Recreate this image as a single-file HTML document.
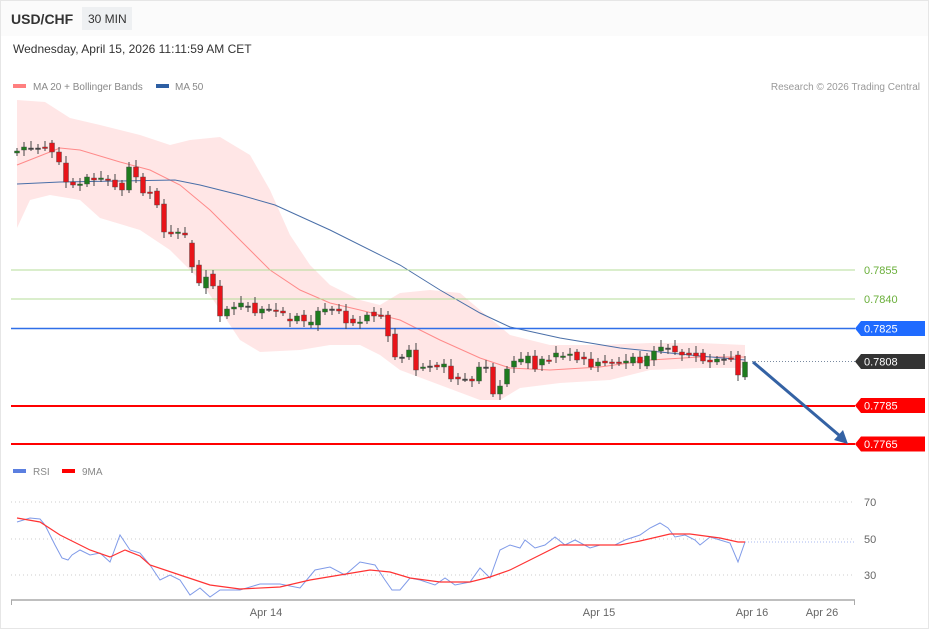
<!DOCTYPE html>
<html><head><meta charset="utf-8">
<style>
html,body{margin:0;padding:0;background:#fff;}
body{width:929px;height:629px;overflow:hidden;font-family:"Liberation Sans",sans-serif;}
#wrap{position:relative;width:927px;height:627px;border:1px solid #e6e6e6;}
svg{position:absolute;left:-1px;top:-1px;}
</style></head>
<body><div id="wrap">
<svg id="s" width="929" height="629" viewBox="0 0 929 629" xmlns="http://www.w3.org/2000/svg" font-family="Liberation Sans, sans-serif">
<rect x="1" y="1" width="927" height="35" fill="#fbfbfb"/>
<text x="11" y="24" font-size="14" font-weight="bold" fill="#333">USD/CHF</text>
<rect x="82" y="7" width="50" height="23" fill="#eef0f2"/>
<text x="88" y="23" font-size="12" fill="#333">30 MIN</text>
<text x="13" y="53" font-size="12" fill="#333">Wednesday, April 15, 2026 11:11:59 AM CET</text>
<rect x="13" y="84" width="13" height="4" fill="#ff7f7f"/>
<text x="33" y="90" font-size="10" fill="#888">MA 20 + Bollinger Bands</text>
<rect x="156" y="84" width="13" height="4" fill="#2e5fa3"/>
<text x="175" y="90" font-size="10" fill="#888">MA 50</text>
<text x="920" y="90" font-size="10" fill="#999" text-anchor="end">Research © 2026 Trading Central</text>

<polygon fill="#ffe3e3" opacity="0.9" points="17,100 45,102 70,118 100,125 140,135 170,145 190,140 220,137 250,155 270,190 290,235 310,265 330,285 360,300 380,305 400,293 430,290 460,293 480,310 510,335 550,345 600,345 650,343 700,343 745,345 745,368 700,368 650,370 610,380 560,383 520,388 500,400 480,400 440,385 400,370 380,355 360,345 330,345 300,350 260,352 240,340 220,310 200,280 170,250 140,230 100,218 80,200 50,195 30,200 17,228"/>
<polyline fill="none" stroke="#ff8a8a" stroke-width="1" points="17,165 60,148 80,150 120,162 150,170 180,185 210,210 240,240 270,270 300,290 330,303 360,310 400,320 440,340 480,358 510,368 550,370 600,367 650,360 700,357 745,357"/>
<polyline fill="none" stroke="#4a6fa8" stroke-width="1" points="17,184 60,182 120,181 175,180 200,185 240,195 275,205 330,230 400,265 440,290 480,313 510,327 560,338 620,348 700,356 745,360"/>

<line x1="11" y1="270" x2="855" y2="270" stroke="#b5dc98" stroke-width="1"/>
<line x1="11" y1="299" x2="855" y2="299" stroke="#b5dc98" stroke-width="1"/>
<line x1="11" y1="328.5" x2="855" y2="328.5" stroke="#2f6fe8" stroke-width="1.5"/>
<line x1="752" y1="361.5" x2="855" y2="361.5" stroke="#7a8aa0" stroke-width="1" stroke-dasharray="1,2"/>
<line x1="11" y1="406" x2="855" y2="406" stroke="#f00" stroke-width="2"/>
<line x1="11" y1="444" x2="855" y2="444" stroke="#f00" stroke-width="2"/>
<text x="864" y="274" font-size="11" fill="#6aaf3a">0.7855</text>
<text x="864" y="303" font-size="11" fill="#6aaf3a">0.7840</text>
<polygon points="861,321 925,321 925,336 861,336 855,328.5" fill="#1f6bff"/>
<text x="864" y="332.5" font-size="11" fill="#fff">0.7825</text>
<polygon points="861,354 925,354 925,369 861,369 855,361.5" fill="#333"/>
<text x="864" y="365.5" font-size="11" fill="#fff">0.7808</text>
<polygon points="861,398 925,398 925,413 861,413 855,405.5" fill="#f00"/>
<text x="864" y="409.5" font-size="11" fill="#fff">0.7785</text>
<polygon points="861,436.5 925,436.5 925,451.5 861,451.5 855,444" fill="#f00"/>
<text x="864" y="448" font-size="11" fill="#fff">0.7765</text>

<g id="candles"></g>

<line x1="753" y1="362" x2="840" y2="436" stroke="#3462a4" stroke-width="3"/>
<polygon points="848,444 834,440 843,430" fill="#3462a4"/>

<rect x="13" y="469" width="13" height="4" fill="#5b7fe0"/>
<text x="33" y="475" font-size="10" fill="#888">RSI</text>
<rect x="62" y="469" width="13" height="4" fill="#f00"/>
<text x="82" y="475" font-size="10" fill="#888">9MA</text>
<line x1="11" y1="502" x2="855" y2="502" stroke="#ccc" stroke-dasharray="1,3"/>
<line x1="11" y1="539" x2="855" y2="539" stroke="#ccc" stroke-dasharray="1,3"/>
<line x1="11" y1="575" x2="855" y2="575" stroke="#ccc" stroke-dasharray="1,3"/>
<text x="864" y="506" font-size="11" fill="#666">70</text>
<text x="864" y="543" font-size="11" fill="#666">50</text>
<text x="864" y="579" font-size="11" fill="#666">30</text>
<polyline fill="none" stroke="#7f9ae8" stroke-width="1" points="17,522 30,518 40,519 45,525 55,545 62,558 68,560 72,555 80,550 90,555 100,553 110,562 120,535 130,550 140,553 150,565 160,580 170,575 180,580 190,595 200,588 210,597 220,590 240,590 260,584 280,584 300,588 315,570 330,567 345,575 360,562 375,565 385,580 392,590 400,590 410,578 420,580 435,585 445,578 455,585 470,582 480,568 490,578 500,550 510,545 520,548 525,540 535,548 545,545 555,537 565,545 575,540 590,548 600,545 615,545 625,540 640,535 650,528 660,523 668,528 675,537 685,535 695,540 700,545 710,537 720,540 730,543 738,562 745,542"/>
<polyline fill="none" stroke="#f33" stroke-width="1.2" points="17,518 40,522 60,535 90,550 110,557 125,550 140,556 150,565 180,575 210,585 240,589 280,587 310,580 340,575 370,570 390,572 410,578 440,582 470,582 490,577 510,570 540,555 560,545 590,545 620,545 640,541 670,534 690,534 720,538 738,542 745,542"/>
<line x1="745" y1="542" x2="855" y2="542" stroke="#a8b8f0" stroke-dasharray="1,2"/>
<line x1="11" y1="600" x2="855" y2="600" stroke="#aaa" stroke-width="1.5"/>
<line x1="11.5" y1="600" x2="11.5" y2="605" stroke="#aaa"/>
<line x1="854.5" y1="600" x2="854.5" y2="605" stroke="#aaa"/>
<text x="266" y="616" font-size="11" fill="#666" text-anchor="middle">Apr 14</text>
<text x="599" y="616" font-size="11" fill="#666" text-anchor="middle">Apr 15</text>
<text x="752" y="616" font-size="11" fill="#666" text-anchor="middle">Apr 16</text>
<text x="822" y="616" font-size="11" fill="#666" text-anchor="middle">Apr 26</text>
</svg>
</div>
<script>
var d=[[153,151],[150,147],[148,148],[148,148],[147,148],[143,152],[152,162],[163,182],[182,185],[185,184],[184,177],[178,180],[179,178],[179,180],[180,187],[183,190],[190,167],[167,177],[177,193],[192,193],[191,205],[204,232],[232,234],[233,232],[233,235],[243,267],[265,283],[288,277],[274,286],[286,316],[316,309],[309,307],[307,303],[306,306],[303,313],[313,309],[309,309],[310,311],[311,313],[319,321],[321,316],[315,321],[325,322],[325,311],[312,309],[309,309],[309,311],[311,323],[319,323],[323,322],[321,315],[312,316],[315,316],[315,336],[334,357],[357,357],[357,350],[350,370],[368,367],[366,366],[365,367],[367,364],[366,379],[377,379],[379,379],[379,381],[381,367],[367,367],[367,394],[394,386],[384,369],[367,361],[362,359],[363,356],[356,369],[365,359],[360,361],[357,353],[357,356],[355,354],[352,360],[357,359],[359,367],[366,362],[361,363],[362,363],[362,363],[363,361],[363,357],[357,363],[366,356],[360,351],[351,347],[348,348],[346,352],[352,355],[353,355],[353,356],[353,361],[360,362],[362,359],[359,359],[358,359],[355,375],[377,362]];
var g=document.getElementById('candles'),n=d.length,s='';
for(var i=0;i<n;i++){var x=17+i*(728/(n-1)),o=d[i][0],c=d[i][1],t=Math.min(o,c),b=Math.max(o,c);
var hi=t-3-(i*7%5),lo=b+3+(i*3%6);
s+='<line x1="'+x+'" y1="'+hi+'" x2="'+x+'" y2="'+lo+'" stroke="#444" stroke-width="1"/>';
var h=Math.max(b-t,1.5);var col=c<o?'#1e7b1e':(c>o?'#e8141a':'#444');
s+='<rect x="'+(x-2.5)+'" y="'+t+'" width="5" height="'+h+'" fill="'+col+'" stroke="#444" stroke-width="0.4"/>';}
g.innerHTML=s;
</script>
</body></html>
